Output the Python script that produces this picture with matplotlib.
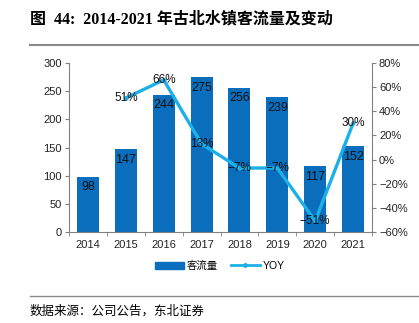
import matplotlib
matplotlib.use("Agg")
import matplotlib.pyplot as plt
import numpy as np
from matplotlib.lines import Line2D

years = ["2014", "2015", "2016", "2017", "2018", "2019", "2020", "2021"]
visitors = [98, 147, 244, 275, 256, 239, 117, 152]
yoy_years = ["2015", "2016", "2017", "2018", "2019", "2020", "2021"]
yoy = [51, 66, 13, -7, -7, -51, 30]
yoy_labels = ["51%", "66%", "13%", "-7%", "-7%", "-51%", "30%"]

plt.rcParams['font.family'] = ['Liberation Sans', 'Noto Sans CJK SC']
plt.rcParams['axes.unicode_minus'] = True

fig = plt.figure(figsize=(4.19, 3.23), dpi=100)
ax = fig.add_axes([69/419, 1-232/323, (372-69)/419, (232-63)/323])
ax2 = ax.twinx()

bar_color = "#0a6ebd"
line_color = "#1cb0e8"
spine_color = "#808080"

x = np.arange(len(years))
ax.bar(x, visitors, width=0.58, color=bar_color, zorder=2)
for xi, v in zip(x, visitors):
    ax.text(xi, v - 8, str(v), ha="center", va="top", fontsize=9, color="#111111")

ax.set_xlim(-0.5, len(years) - 0.5)
ax.set_ylim(0, 300)
ax.set_yticks(range(0, 301, 50))
ax.set_xticks(x)
ax.set_xticklabels(years)
ax.set_xticks(np.arange(-0.5, len(years), 1), minor=True)
ax.tick_params(axis="x", which="major", length=0, labelsize=8, pad=6, labelcolor="#222222")
ax.tick_params(axis="x", which="minor", length=3, direction="out", color=spine_color)
ax.tick_params(axis="y", labelsize=8, length=3, color=spine_color, pad=2, labelcolor="#222222")

yx = [years.index(y) for y in yoy_years]
ax2.plot(yx, yoy, color=line_color, lw=2.4, marker="o", ms=2, zorder=3)
for xi, v, lab in zip(yx, yoy, yoy_labels):
    ax2.text(xi, v, lab.replace("-", "\u2212"), ha="center", va="center", fontsize=8.5, color="#111111", zorder=4)
ax2.set_ylim(-60, 80)
ax2.set_yticks(range(-60, 81, 20))
ax2.set_yticklabels([f"{t}%".replace("-", "\u2212") for t in range(-60, 81, 20)])
ax2.tick_params(axis="y", labelsize=8, length=3, color=spine_color, pad=2, labelcolor="#222222")

for a in (ax, ax2):
    a.spines["top"].set_visible(False)
    for s in ["left", "right", "bottom"]:
        a.spines[s].set_color(spine_color)
ax.spines["right"].set_visible(False)
ax2.spines["left"].set_visible(False)
ax2.spines["bottom"].set_visible(False)

handles = [
    plt.Rectangle((0, 0), 1, 1, color=bar_color),
    Line2D([0], [0], color=line_color, lw=2, marker="o", ms=2.5),
]
fig.legend(handles, ["客流量", "YOY"], loc="center", bbox_to_anchor=(220/419, 1-266/323),
           ncol=2, frameon=False, fontsize=7.5, handlelength=2.8, handleheight=0.7, columnspacing=1.2, handletextpad=0.3)

fig.text(30/419, 1-19/323, "图  44:  2014-2021 年古北水镇客流量及变动", fontsize=11.5, fontweight="bold",
         family=["Liberation Serif", "Noto Sans CJK SC"], va="center", ha="left")
fig.add_artist(Line2D([30/419, 1.0], [1-45/323, 1-45/323], color="#8a8a8a", lw=1.5))
fig.add_artist(Line2D([30/419, 1.0], [1-296/323, 1-296/323], color="#8a8a8a", lw=1.0))
fig.text(30/419, 1-311/323, "数据来源：公司公告，东北证券", fontsize=9,
         family=["Noto Sans CJK SC"], va="center", ha="left")

fig.savefig("out.png", dpi=100, facecolor="white")
